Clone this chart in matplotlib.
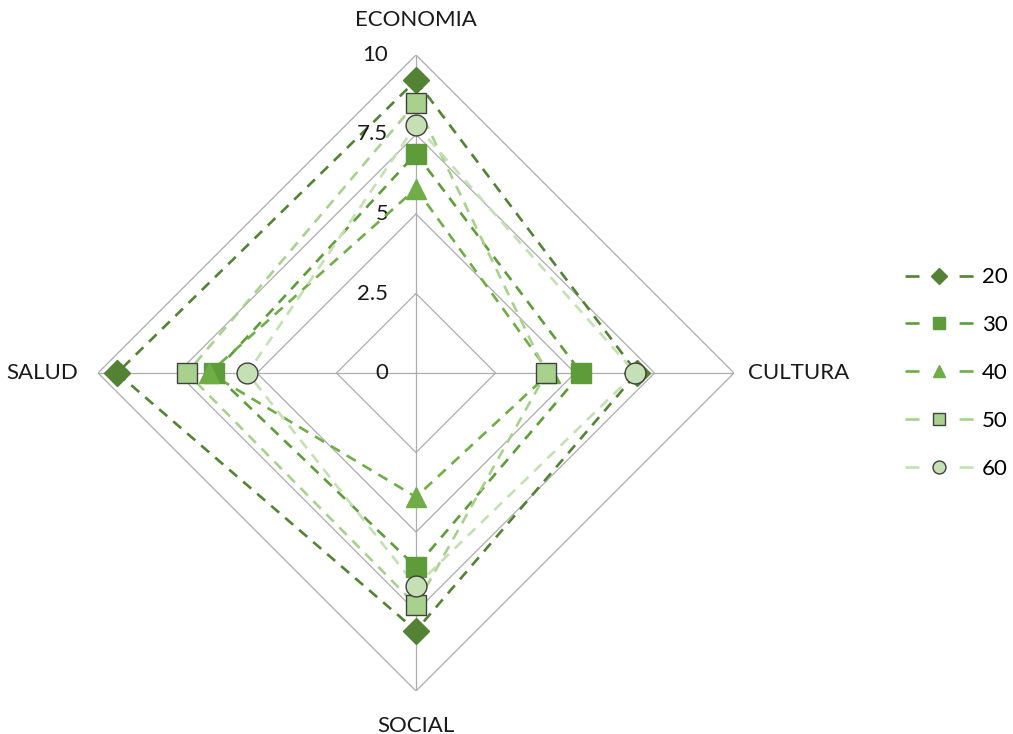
import numpy as np
import matplotlib
matplotlib.use("Agg")
import matplotlib.pyplot as plt
from matplotlib.lines import Line2D

categories = ["ECONOMIA", "CULTURA", "SOCIAL", "SALUD"]
series_names = ["20", "30", "40", "50", "60"]
s20 = [9.2, 6.95, 8.1, 9.4]
s30 = [6.9, 5.2, 6.1, 6.35]
s40 = [5.8, 4.2, 3.9, 6.5]
s50 = [8.5, 4.1, 7.3, 7.2]
s60 = [7.8, 6.9, 6.7, 5.3]
r_ticks = [0, 2.5, 5, 7.5, 10]
r_tick_labels = ["0", "2.5", "5", "7.5", "10"]

series = [s20, s30, s40, s50, s60]
colors = ["#548235", "#5E9C3A", "#70AD47", "#A9D18E", "#C5E0B4"]
markers = ["D", "s", "^", "s", "o"]
msizes = [13, 15, 15, 15, 15]
edgecolors = ["#548235", "#5E9C3A", "#70AD47", "#404040", "#404040"]

plt.rcParams['font.family'] = ['Lato', 'DejaVu Sans']

fig = plt.figure(figsize=(10.13, 7.34), dpi=100)
W, H = 1013, 734
cx, cy, R = 416, 373, 318
ax = fig.add_axes([(cx - R) / W, (H - cy - R) / H, 2 * R / W, 2 * R / H], projection='polar')
ax.set_theta_zero_location('N')
ax.set_theta_direction(-1)
ax.set_ylim(0, 10)
ax.grid(False)
ax.spines['polar'].set_visible(False)
ax.set_xticks([])
ax.set_yticks([])
ax.patch.set_alpha(0)

n = len(categories)
angles = np.arange(n) * 2 * np.pi / n
closed = np.append(angles, angles[0])

gc = "#ADADAD"
for r in r_ticks[1:]:
    ax.plot(closed, [r] * (n + 1), color=gc, lw=0.9, zorder=1)
for a in angles:
    ax.plot([a, a], [0, r_ticks[-1]], color=gc, lw=0.9, zorder=1)

fs = 16
for v, lab in zip(r_ticks, r_tick_labels):
    ax.annotate(lab, xy=(0, v), xytext=(-20, 0), textcoords='offset points',
                ha='right', va='center', fontsize=fs, color='#1a1a1a')

offsets = [(0, 25, 'center', 'center'), (10, 0, 'left', 'center'),
           (0, -25, 'center', 'center'), (-14, 0, 'right', 'center')]
for a, lab, (dx, dy, ha, va) in zip(angles, categories, offsets):
    ax.annotate(lab, xy=(a, 10), xytext=(dx, dy), textcoords='offset points',
                ha=ha, va=va, fontsize=fs, color='#1a1a1a', annotation_clip=False)

handles = []
for i, (vals, name) in enumerate(zip(series, series_names)):
    vv = list(vals) + [vals[0]]
    ax.plot(closed, vv, color=colors[i], lw=1.9, dashes=(4, 3), zorder=2 + i)
    ax.plot(angles, vals, linestyle='none', marker=markers[i], ms=msizes[i],
            mfc=colors[i], mec=edgecolors[i], mew=1.0, zorder=10 + i, clip_on=False)
    handles.append(Line2D([], [], color=colors[i], lw=1.9, dashes=(5.3, 15.2),
                          marker=markers[i], ms=msizes[i] * 0.62, mfc=colors[i],
                          mec=edgecolors[i], mew=1.0))

fig.legend(handles, series_names, loc='center left', bbox_to_anchor=(905 / W, 1 - 373 / H),
           frameon=False, fontsize=fs, handlelength=3.1, numpoints=1, labelspacing=1.25,
           handletextpad=0.35, borderpad=0, borderaxespad=0)

fig.savefig("out.png", dpi=100)
